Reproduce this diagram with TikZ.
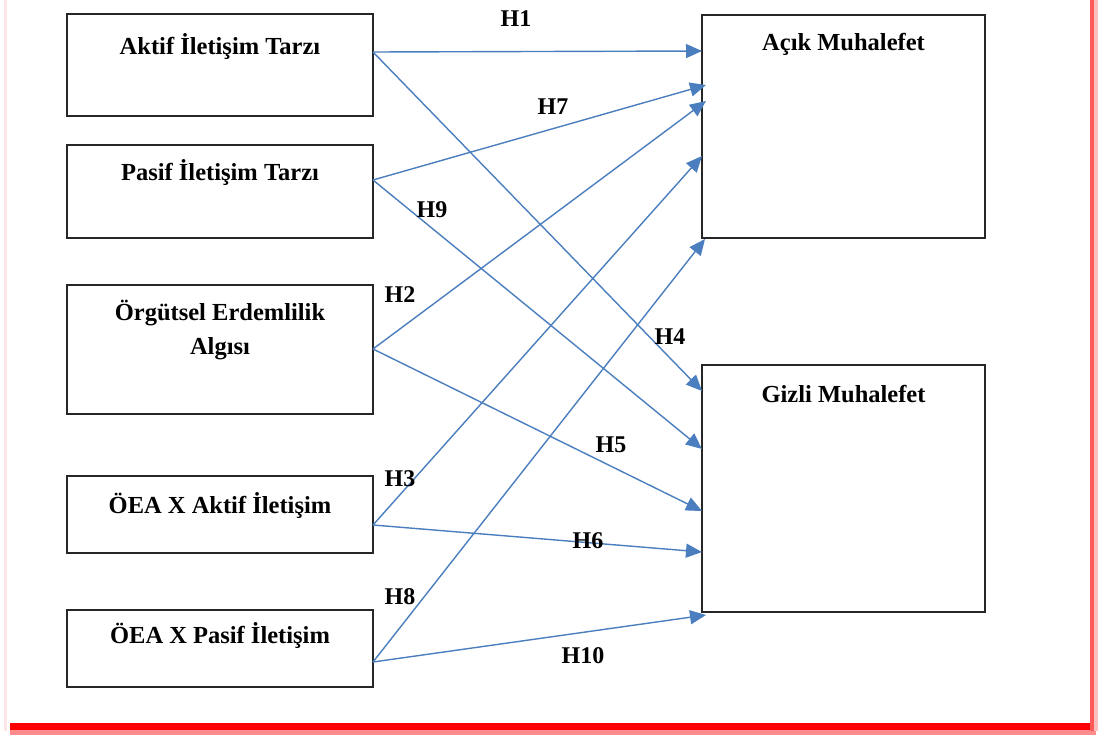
\documentclass[tikz,border=0pt]{standalone}
\usepackage{fontspec}
\setmainfont{Liberation Serif}
\usetikzlibrary{arrows.meta}
\definecolor{linkblue}{RGB}{74,126,190}
\definecolor{frame red}{RGB}{255,0,0}
\begin{document}
\begin{tikzpicture}[x=1pt,y=-1pt,
  box/.style={draw=black!85,line width=1.2pt,rectangle,inner sep=0pt,outer sep=0pt},
  title/.style={font=\fontsize{24.5}{34}\selectfont\bfseries,anchor=base,inner sep=0pt},
  hyp/.style={font=\fontsize{24}{28}\selectfont\bfseries,inner sep=0pt},
  link/.style={draw=linkblue,line width=1.4pt,-{Triangle[length=16pt,width=14pt]}}]
\useasboundingbox (0,0) rectangle (1099,736);
\fill[white] (0,0) rectangle (1099,736);

% page frame: red rule at the bottom, lighter rule at the right
\fill[red!45] (10,728) rectangle (1096,735);
\fill[frame red] (10,723) rectangle (1092,730);
\fill[red!25] (1093,0) rectangle (1098,731);
\fill[red!65] (1090,0) rectangle (1094,731);
\fill[red!10] (4,0) rectangle (7,731);

% predictor boxes
\node (b1) [box,minimum width=306pt,minimum height=102pt] at (220,65) {};
\node (b2) [box,minimum width=306pt,minimum height=93pt] at (220,191.5) {};
\node (b3) [box,minimum width=306pt,minimum height=129pt] at (220,349.5) {};
\node (b4) [box,minimum width=306pt,minimum height=77pt] at (220,514.5) {};
\node (b5) [box,minimum width=306pt,minimum height=77pt] at (220,648.5) {};
% outcome boxes
\node (acik) [box,minimum width=283pt,minimum height=223pt] at (843.5,126.5) {};
\node (gizli) [box,minimum width=283pt,minimum height=247pt] at (843.5,488.5) {};

% box titles
\node (t1) [title] at (220,54) {Aktif İletişim Tarzı};
\node (t2) [title] at (220,180) {Pasif İletişim Tarzı};
\node (t3a) [title] at (220,320) {Örgütsel Erdemlilik};
\node (t3b) [title] at (220,354) {Algısı};
\node (t4) [title] at (220,513) {ÖEA X Aktif İletişim};
\node (t5) [title] at (220,643) {ÖEA X Pasif İletişim};
\node (t6) [title] at (843.5,50) {Açık Muhalefet};
\node (t7) [title] at (843.5,402) {Gizli Muhalefet};

% connector end points
\coordinate (s1) at (373,52);
\coordinate (s2) at (373,180);
\coordinate (s3) at (373,349);
\coordinate (s4) at (373,525);
\coordinate (s5) at (373,662);
\coordinate (eH1) at (702,51);
\coordinate (eH7) at (706,85);
\coordinate (eH2) at (706,101);
\coordinate (eH3) at (702,156);
\coordinate (eH8) at (705,239);
\coordinate (eH4) at (702,391);
\coordinate (eH9) at (702,449);
\coordinate (eH5) at (702,511);
\coordinate (eH6) at (702,552);
\coordinate (eH10) at (706,615);

% hypothesised paths
\draw[link] (s1) -- (eH1);
\draw[link] (s1) -- (eH4);
\draw[link] (s2) -- (eH7);
\draw[link] (s2) -- (eH9);
\draw[link] (s3) -- (eH2);
\draw[link] (s3) -- (eH5);
\draw[link] (s4) -- (eH3);
\draw[link] (s4) -- (eH6);
\draw[link] (s5) -- (eH8);
\draw[link] (s5) -- (eH10);

% path labels
\node (h1) [hyp] at (516,19) {H1};
\node (h7) [hyp] at (553,107) {H7};
\node (h9) [hyp] at (432,210) {H9};
\node (h2) [hyp] at (400,295) {H2};
\node (h4) [hyp] at (670,337) {H4};
\node (h5) [hyp] at (611,445) {H5};
\node (h3) [hyp] at (400,479) {H3};
\node (h6) [hyp] at (588,541) {H6};
\node (h8) [hyp] at (400,597) {H8};
\node (h10) [hyp] at (583,656) {H10};
\end{tikzpicture}
\end{document}
